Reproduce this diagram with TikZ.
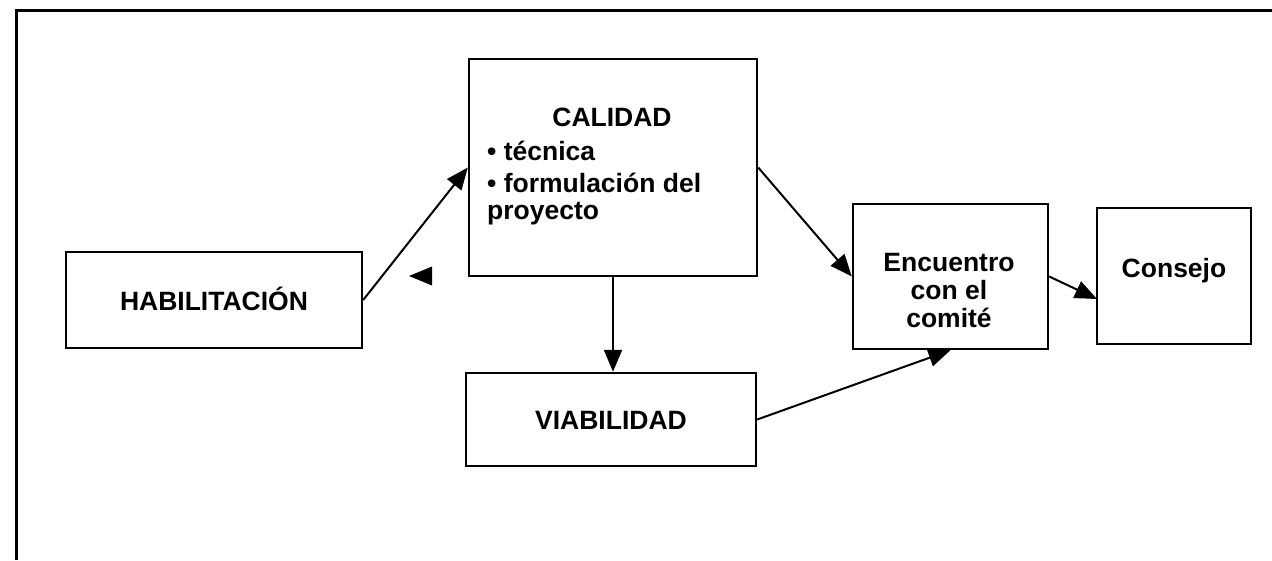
\documentclass[tikz,border=0pt]{standalone}
\usepackage{fontspec}
\setmainfont{Liberation Sans}
\usetikzlibrary{arrows.meta}
\begin{document}
\begin{tikzpicture}[x=1pt,y=-1pt,
  box/.style={draw, line width=2.4pt, rectangle, inner sep=0pt},
  txt/.style={inner sep=0pt, font=\fontsize{26.5}{30}\selectfont\bfseries},
  conn/.style={line width=2pt, -{Triangle[length=22pt,width=18pt]}, shorten >=0pt}]
\useasboundingbox (0,0) rectangle (1272,560);
\draw[line width=3pt] (16,560) -- (16,10) -- (1272,10);
% boxes
\node[box, minimum width=296pt, minimum height=96pt] (hab) at (214,300) {};
\node[box, minimum width=288pt, minimum height=217pt] (cal) at (613,167.5) {};
\node[box, minimum width=290pt, minimum height=93pt] (via) at (611,419.5) {};
\node[box, minimum width=195pt, minimum height=145pt] (enc) at (950.5,276.5) {};
\node[box, minimum width=154pt, minimum height=136pt] (con) at (1174,276) {};
% texts
\node[txt, anchor=base] (habt) at (214,310) {HABILITACIÓN};
\node[txt, anchor=base] (calt) at (612,126) {CALIDAD};
\node[txt, anchor=base west] (cal1) at (487,160) {• técnica};
\node[txt, anchor=base west] (cal2) at (487,192) {• formulación del};
\node[txt, anchor=base west] (cal3) at (487,219) {proyecto};
\node[txt, anchor=base] (viat) at (611,429) {VIABILIDAD};
\node[txt, anchor=base] (enc1) at (949,271) {Encuentro};
\node[txt, anchor=base] (enc2) at (949,299) {con el};
\node[txt, anchor=base] (enc3) at (949,327) {comité};
\node[txt, anchor=base] (cont) at (1174,277) {Consejo};
% connectors
\coordinate (conin) at (1097,299);
\draw[conn] (hab.east) -- (cal.west);
\draw[conn] (cal.east) -- (enc.west);
\draw[conn] (cal.south) -- (cal.south |- via.north);
\draw[conn] (via.east) -- (enc.south);
\draw[conn] (enc.east) -- (conin);
% stray arrowhead
\fill (409,276) -- (432,266.5) -- (432,285.5) -- cycle;
\end{tikzpicture}
\end{document}
